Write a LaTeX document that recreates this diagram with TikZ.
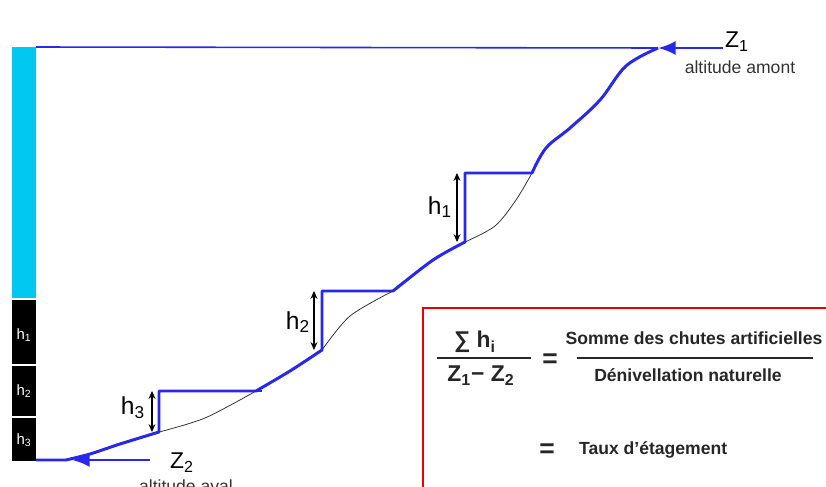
\documentclass[tikz,border=0pt]{standalone}
\usepackage{fontspec}
\setmainfont{Liberation Sans}
\usetikzlibrary{arrows.meta, positioning, calc}
\definecolor{profil}{RGB}{40,40,235}
\definecolor{bief}{RGB}{0,200,240}
\definecolor{cadre}{RGB}{235,0,0}
\tikzset{
  profilline/.style={profil, line width=1.7pt, line join=round},
  niveauline/.style={profil, line width=0.9pt},
  terrain/.style={black!80, line width=0.45pt},
  cote/.style={{Stealth[length=4.5pt,width=4pt]}-{Stealth[length=4.5pt,width=4pt]}, line width=0.6pt},
  fleche/.style={profil, line width=1.7pt, -{Latex[length=10pt,width=8pt]}},
  hlabel/.style={font=\fontsize{14}{14}\selectfont, inner sep=1pt},
  zlabel/.style={font=\fontsize{13}{13}\selectfont, inner sep=1pt},
  altlabel/.style={font=\fontsize{10}{10}\selectfont, inner sep=1pt, text=black!80},
  barlabel/.style={text=white, font=\fontsize{8.5}{8.5}\selectfont, inner sep=1pt},
  formule/.style={font=\bfseries\fontsize{13}{13}\selectfont, inner sep=1pt, text=black!85},
  texte/.style={font=\bfseries\fontsize{10}{10}\selectfont, inner sep=1pt, text=black!85}
}

\begin{document}
\begin{tikzpicture}[x=0.02cm, y=-0.02cm]
    \useasboundingbox (0,0) rectangle (826,487);
    \clip (0,0) rectangle (826,487);

    % 1. Colonne des chutes (gauche)
    \fill[bief] (12,47) rectangle (36,298);
    \fill[black] (12,300) rectangle (36,461);
    \draw[white, line width=0.8pt] (12,365) -- (36,365);
    \draw[white, line width=0.8pt] (12,417) -- (36,417);
    \node[barlabel] (b1) at (24,335) {h\textsubscript{1}};
    \node[barlabel] (b2) at (24,391) {h\textsubscript{2}};
    \node[barlabel] (b3) at (24,440) {h\textsubscript{3}};

    % 2. Points du profil
    \coordinate (bartop) at (36,47);
    \coordinate (amont) at (658,48);
    \coordinate (s1top) at (532,173);
    \coordinate (s1corner) at (465,173);
    \coordinate (s1foot) at (465,242);
    \coordinate (s2top) at (393,291);
    \coordinate (s2corner) at (322,291);
    \coordinate (s2foot) at (322,350);
    \coordinate (s3top) at (256,391);
    \coordinate (s3corner) at (159,391);
    \coordinate (s3foot) at (159,432);
    \coordinate (aval) at (66,460);
    \coordinate (barbot) at (36,460);

    % Ligne d'altitude amont
    \draw[niveauline] (bartop) -- (amont);

    % Profil en long avec les biefs
    \draw[profilline] plot[smooth, tension=0.6] coordinates {(658,48) (626,66) (600,100) (570,128) (546,148) (532,173)}
        -- (s1corner) -- (s1foot)
        -- plot[smooth] coordinates {(465,242) (433,260) (393,291)}
        -- (s2corner) -- (s2foot)
        -- plot[smooth] coordinates {(322,350) (290,371) (256,391)}
        -- (s3corner) -- (s3foot)
        -- plot[smooth] coordinates {(159,432) (120,444) (90,454) (66,460)}
        -- (barbot);
    \draw[profilline] (s3top) -- ++(6,0);

    % Pente naturelle sous les biefs
    \draw[terrain] plot[smooth] coordinates {(465,242) (495,226) (516,200) (532,173)};
    \draw[terrain] plot[smooth] coordinates {(322,350) (350,316) (393,291)};
    \draw[terrain] plot[smooth, tension=0.5] coordinates {(159,432) (205,418) (256,391)};

    % 3. Hauteurs de chute
    \draw[cote] ($(s1corner)+(-8,0)$) -- ($(s1foot)+(-8,0)$);
    \node[hlabel] (h1) at (440,207) {h\textsubscript{1}};
    \draw[cote] ($(s2corner)+(-8,0)$) -- ($(s2foot)+(-8,0)$);
    \node[hlabel] (h2) at (298,322) {h\textsubscript{2}};
    \draw[cote] ($(s3corner)+(-7,0)$) -- ($(s3foot)+(-7,0)$);
    \node[hlabel] (h3) at (133,408) {h\textsubscript{3}};

    % 4. Altitudes amont et aval
    \node[zlabel, anchor=west] (Z1) at (723,42) {Z\textsubscript{1}};
    \node[altlabel] (altamont) at (740,67) {altitude amont};
    \draw[fleche] (Z1.west |- amont) -- (amont);

    \node[zlabel, anchor=west] (Z2) at (168,463) {Z\textsubscript{2}};
    \node[altlabel] (altaval) at (186,486) {altitude aval};
    \coordinate (queueaval) at (150,460);
    \coordinate (tipaval) at (72,460);
    \draw[fleche] (queueaval) -- (tipaval);

    % 5. Cadre de la formule
    \draw[cadre, line width=1.2pt] (835,308) -- (423,308) -- (423,495);

    \node[formule] (sumh) at (475,342) {∑ h\textsubscript{i}};
    \node[formule] (diffz) at (481,376) {Z\textsubscript{1}− Z\textsubscript{2}};
    \draw[black!85, line width=1pt] (437,358) -- (531,358);
    \node[formule, font=\bfseries\fontsize{15}{15}\selectfont] (egal1) at (550,361) {=};

    \node[texte] (chutes) at (694,338) {Somme des chutes artificielles};
    \node[texte] (deniv) at (688,375) {Dénivellation naturelle};
    \draw[black!85, line width=1pt] (577,358) -- (813,358);

    \node[formule, font=\bfseries\fontsize{15}{15}\selectfont] (egal2) at (547,451) {=};
    \node[texte, anchor=west] (taux) at (577,450) {Taux d'étagement};
\end{tikzpicture}
\end{document}
